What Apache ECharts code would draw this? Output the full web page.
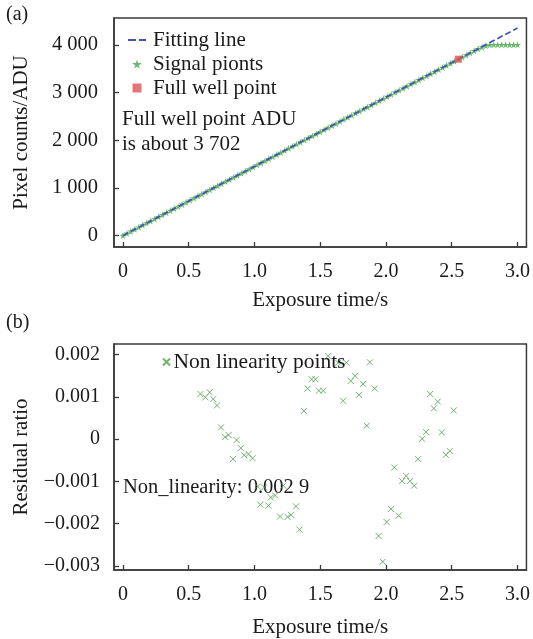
<!DOCTYPE html>
<html><head><meta charset="utf-8">
<script src="https://cdn.jsdelivr.net/npm/echarts@6/dist/echarts.min.js"></script>
<style>html,body{margin:0;padding:0;background:#fff}#c{width:533px;height:639px}</style>
</head><body><div id="c"></div>
<script>
// ---- data ----
const xTicks = [0, 0.5, 1.0, 1.5, 2.0, 2.5, 3.0];
const yTicksTop = [0, 1000, 2000, 3000, 4000];
const yTicksBottom = [-0.003, -0.002, -0.001, 0, 0.001, 0.002];
const signalTime = [0.00,0.03,0.06,0.09,0.12,0.15,0.18,0.21,0.24,0.27,0.30,0.33,0.36,0.39,0.42,0.45,0.48,0.51,0.54,0.57,0.60,0.63,0.66,0.69,0.72,0.75,0.78,0.81,0.84,0.87,0.90,0.93,0.96,0.99,1.02,1.05,1.08,1.11,1.14,1.17,1.20,1.23,1.26,1.29,1.32,1.35,1.38,1.41,1.44,1.47,1.50,1.53,1.56,1.59,1.62,1.65,1.68,1.71,1.74,1.77,1.80,1.83,1.86,1.89,1.92,1.95,1.98,2.01,2.04,2.07,2.10,2.13,2.16,2.19,2.22,2.25,2.28,2.31,2.34,2.37,2.40,2.43,2.46,2.49,2.52,2.55,2.58,2.61,2.64,2.67,2.70,2.73,2.76,2.79,2.82,2.85,2.88,2.91,2.94,2.97,3.00];
const signalADU = [0,44,87,131,174,218,261,305,348,392,436,479,523,566,610,653,697,741,784,828,871,915,958,1002,1045,1089,1133,1176,1220,1263,1307,1350,1394,1437,1481,1525,1568,1612,1655,1699,1742,1786,1830,1873,1917,1960,2004,2047,2091,2134,2178,2222,2265,2309,2352,2396,2439,2483,2526,2570,2614,2657,2701,2744,2788,2831,2875,2919,2962,3006,3049,3093,3136,3180,3223,3267,3311,3354,3398,3441,3485,3528,3572,3615,3659,3702,3746,3790,3833,3877,3920,3955,3988,4002,4006,4006,4006,4006,4006,4006,4006];
const fitTime = [0, 3.0];
const fitADU = [0, 4356];
const fullWellTime = [2.55];
const fullWellADU = [3702];
const residTime = [0.589,0.626,0.659,0.687,0.715,0.745,0.778,0.803,0.836,0.864,0.896,0.922,0.955,0.985,1.025,1.045,1.073,1.106,1.124,1.157,1.195,1.220,1.252,1.278,1.316,1.343,1.376,1.404,1.434,1.464,1.490,1.523,1.561,1.636,1.674,1.699,1.732,1.765,1.795,1.826,1.854,1.878,1.914,1.944,1.975,2.005,2.038,2.063,2.096,2.123,2.154,2.184,2.214,2.245,2.275,2.305,2.336,2.364,2.394,2.424,2.455,2.485,2.515];
const residRatio = [0.00107,0.00099,0.00111,0.00095,0.00080,0.00028,0.00005,0.00010,-0.00047,-0.00002,-0.00021,-0.00038,-0.00035,-0.00045,-0.00112,-0.00155,-0.00114,-0.00157,-0.00138,-0.00133,-0.00183,-0.00110,-0.00184,-0.00179,-0.00159,-0.00214,0.00067,0.00120,0.00142,0.00142,0.00115,0.00115,0.00197,0.00181,0.00091,0.00181,0.00138,0.00150,0.00105,0.00131,0.00032,0.00182,0.00120,-0.00229,-0.00290,-0.00196,-0.00165,-0.00067,-0.00181,-0.00099,-0.00087,-0.00099,-0.00110,-0.00047,0.00001,0.00017,0.00107,0.00073,0.00089,0.00016,-0.00037,-0.00028,0.00068];

// ---- styling ----
const FONT = 'Liberation Serif';
const TXT = '#1a1a1a';
const AX = '#3a3a3a';
const GREEN = '#4f9f4f';
const BLUE = '#3f53b8';
const STAR = 'path://M50,0L61,35L98,35L68,57L79,91L50,70L21,91L32,57L2,35L39,35Z';
const CROSS = 'path://M0,0L10,10M10,0L0,10';
const DASH = 'path://M0,0H8V2.2H0ZM11,0H18V2.2H11Z';
const SQUARE = 'path://M0,0H10V10H0Z';
const zip = (a, b) => a.map((v, i) => [v, b[i]]);

function xAxis(gi, gap) {
  return {
    type: 'value', gridIndex: gi, min: -0.068, max: 3.068,
    name: 'Exposure time/s', nameLocation: 'middle', nameGap: gap,
    nameTextStyle: { fontFamily: FONT, fontSize: 21, color: TXT },
    axisLine: { show: true, onZero: false, lineStyle: { color: AX, width: 1.5 } },
    axisTick: { show: true, inside: true, length: 5, customValues: xTicks, lineStyle: { color: AX, width: 1.3 } },
    axisLabel: { customValues: xTicks, margin: 15, fontFamily: FONT, fontSize: 20, color: TXT,
      formatter: v => v === 0 ? '0' : v.toFixed(1) },
    splitLine: { show: false }
  };
}
function yName(t) {
  return { name: t, nameLocation: 'middle', nameGap: 82,
    nameTextStyle: { fontFamily: FONT, fontSize: 21, color: TXT } };
}

const option = {
  animation: false,
  backgroundColor: '#fff',
  grid: [
    { left: 114, right: 4, top: 18, height: 229, show: true, borderColor: AX, borderWidth: 1.5 },
    { left: 114, right: 4, top: 344, height: 226, show: true, borderColor: AX, borderWidth: 1.5 }
  ],
  xAxis: [xAxis(0, 43), xAxis(1, 47)],
  yAxis: [
    Object.assign({ type: 'value', gridIndex: 0, min: -241, max: 4567,
      axisLine: { show: true, onZero: false, lineStyle: { color: AX, width: 1.5 } },
      axisTick: { show: true, inside: true, length: 5, customValues: yTicksTop, lineStyle: { color: AX, width: 1.3 } },
      axisLabel: { customValues: yTicksTop, margin: 16, fontFamily: FONT, fontSize: 20.5, color: TXT,
        formatter: v => v === 0 ? '0' : String(v).replace(/\B(?=(\d{3})+(?!\d))/g, ' ') },
      splitLine: { show: false } }, yName('Pixel counts/ADU')),
    Object.assign({ type: 'value', gridIndex: 1, min: -0.003095, max: 0.002253,
      axisLine: { show: true, onZero: false, lineStyle: { color: AX, width: 1.5 } },
      axisTick: { show: true, inside: true, length: 5, customValues: yTicksBottom, lineStyle: { color: AX, width: 1.3 } },
      axisLabel: { customValues: yTicksBottom, margin: 14, fontFamily: FONT, fontSize: 20, color: TXT,
        formatter: v => Math.abs(v) < 1e-9 ? '0' : (v < 0 ? '\u2212' : '') + Math.abs(v).toFixed(3) },
      splitLine: { show: false } }, yName('Residual ratio'))
  ],
  legend: [
    { orient: 'vertical', left: 123, top: 24, itemWidth: 18, itemHeight: 9, itemGap: 2,
      textStyle: { fontFamily: FONT, fontSize: 21, lineHeight: 22, color: TXT, padding: [0, 0, 0, 2] },
      data: [{ name: 'Fitting line', icon: DASH, itemStyle: { color: BLUE } },
             { name: 'Signal pionts', icon: STAR },
             { name: 'Full well point', icon: SQUARE }] },
    { orient: 'vertical', left: 157, top: 346, itemWidth: 8, itemHeight: 7, itemGap: 4,
      textStyle: { fontFamily: FONT, fontSize: 21.5, lineHeight: 22, color: TXT, padding: [0, 0, 0, -2] },
      data: ['Non linearity points'] }
  ],
  series: [
    { name: 'Signal pionts', type: 'scatter', xAxisIndex: 0, yAxisIndex: 0,
      symbol: STAR, symbolSize: 7, itemStyle: { color: '#5aae5a', opacity: 0.9 },
      data: zip(signalTime, signalADU), z: 2 },
    { name: 'Fitting line', type: 'line', xAxisIndex: 0, yAxisIndex: 0,
      symbol: 'none', lineStyle: { color: BLUE, width: 1.7, type: [6, 3] },
      itemStyle: { color: BLUE },
      data: zip(fitTime, fitADU), z: 3 },
    { name: 'Full well point', type: 'scatter', xAxisIndex: 0, yAxisIndex: 0,
      symbol: 'rect', symbolSize: 7, itemStyle: { color: '#e25252' },
      data: zip(fullWellTime, fullWellADU), z: 4 },
    { name: 'Non linearity points', type: 'scatter', xAxisIndex: 1, yAxisIndex: 1,
      symbol: CROSS, symbolSize: 6,
      itemStyle: { color: 'rgba(0,0,0,0)', borderColor: GREEN, borderWidth: 1 },
      data: zip(residTime, residRatio) }
  ],
  graphic: [
    { type: 'text', left: 6, top: 5, style: { text: '(a)', fontFamily: FONT, fontSize: 20, fill: TXT } },
    { type: 'text', left: 6, top: 313, style: { text: '(b)', fontFamily: FONT, fontSize: 20, fill: TXT } },
    { type: 'text', left: 122, top: 107, style: { text: 'Full well point ADU\nis about 3 702', lineHeight: 25, fontFamily: FONT, fontSize: 21, fill: TXT } },
    { type: 'text', left: 123, top: 477, style: { text: 'Non_linearity: 0.002 9', fontFamily: FONT, fontSize: 20.5, fill: TXT } }
  ]
};
echarts.init(document.getElementById('c')).setOption(option);
</script></body></html>
